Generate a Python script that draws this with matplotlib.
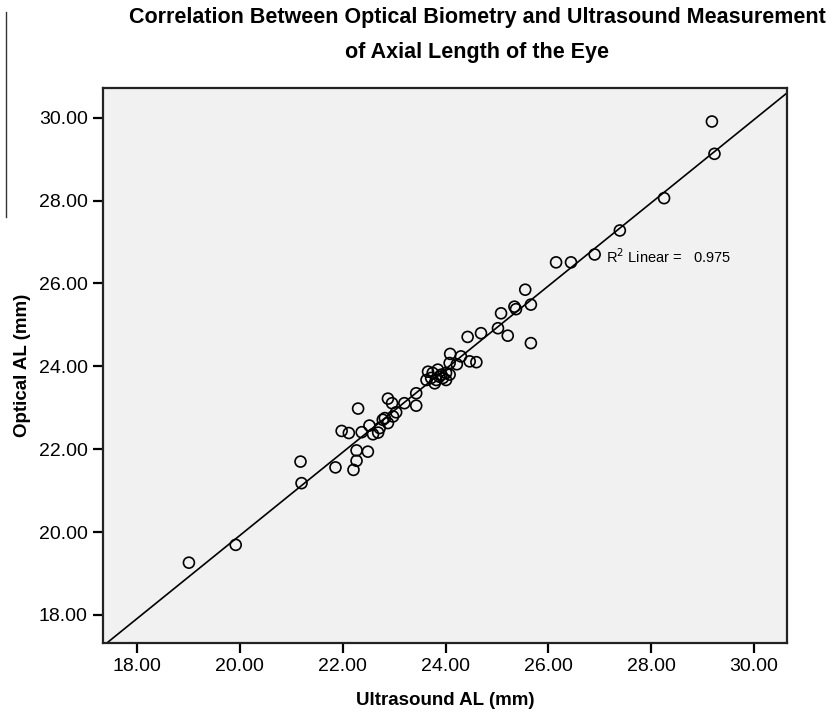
import numpy as np
import matplotlib.pyplot as plt
from matplotlib.lines import Line2D
from matplotlib import font_manager

# Ultrasound AL (mm) vs Optical AL (mm)
ultrasound_al = [19.01, 19.92, 21.20, 21.18, 21.86, 22.21, 22.27, 22.27, 22.49, 21.98,
                 22.12, 22.30, 22.37, 22.52, 22.59, 22.69, 22.72, 22.78, 22.82, 22.88,
                 22.88, 22.96, 22.98, 23.04, 23.20, 23.43, 23.43, 23.66, 23.75, 23.85,
                 23.92, 24.01, 24.08, 23.63, 23.72, 23.82, 23.95, 23.79, 24.01, 23.88,
                 24.08, 24.09, 24.30, 24.22, 24.47, 24.60, 24.43, 24.69, 25.21, 25.66,
                 25.02, 25.08, 25.34, 25.37, 25.66, 25.55, 26.15, 26.44, 26.90, 27.39,
                 28.25, 29.18, 29.23]
optical_al = [19.26, 19.69, 21.18, 21.70, 21.56, 21.50, 21.72, 21.97, 21.94, 22.44,
              22.39, 22.98, 22.41, 22.57, 22.36, 22.40, 22.51, 22.71, 22.75, 22.63,
              23.22, 23.11, 22.79, 22.89, 23.11, 23.35, 23.05, 23.87, 23.84, 23.92,
              23.80, 23.84, 23.80, 23.67, 23.72, 23.67, 23.72, 23.59, 23.67, 23.75,
              24.08, 24.30, 24.24, 24.05, 24.12, 24.10, 24.71, 24.80, 24.74, 24.56,
              24.92, 25.28, 25.44, 25.38, 25.49, 25.85, 26.51, 26.51, 26.70, 27.28,
              28.06, 29.91, 29.13]
tick_vals = [18, 20, 22, 24, 26, 28, 30]
r2_text = "0.975"

# narrow Arial-like font if present
names = {f.name for f in font_manager.fontManager.ttflist}
fam = "Liberation Sans Narrow" if "Liberation Sans Narrow" in names else "Liberation Sans"
plt.rcParams['font.family'] = fam

fig = plt.figure(figsize=(8.39, 7.14), dpi=100)
ax = fig.add_axes([0.1228, 0.0994, 0.8152, 0.7774])
ax.set_facecolor('#f1f1f1')

xmin, xmax = 17.34, 30.64
ymin, ymax = 17.32, 30.72

ax.scatter(ultrasound_al, optical_al, s=62, facecolors='none', edgecolors='black',
           linewidths=1.2, zorder=3)

# fit line
k, b = np.polyfit(ultrasound_al, optical_al, 1)
xs = np.array([xmin, xmax])
ax.plot(xs, k * xs + b, color='black', lw=1.2, zorder=2)

ax.set_xlim(xmin, xmax)
ax.set_ylim(ymin, ymax)
ax.set_xticks(tick_vals)
ax.set_yticks(tick_vals)
ax.set_xticklabels([f"{v:.2f}" for v in tick_vals])
ax.set_yticklabels([f"{v:.2f}" for v in tick_vals])
ax.tick_params(direction='out', length=7, width=1.6, labelsize=14, colors='black', pad=4)
for sp in ax.spines.values():
    sp.set_linewidth(1.6)
    sp.set_color('#222222')

ax.set_xlabel("Ultrasound AL (mm)", fontsize=13.5, fontweight='bold')
ax.set_ylabel("Optical AL (mm)", fontsize=13.5, fontweight='bold')
ax.xaxis.set_label_coords(0.5, -0.103)
ax.xaxis.label.set_va('center')
ax.yaxis.set_label_coords(-0.118, 0.5)
ax.yaxis.label.set_va('center')

ax.text(27.13, 26.50, "R$^2$ Linear =   " + r2_text, fontsize=10.5, va='baseline', ha='left')

fig.text(0.5685, 0.975, "Correlation Between Optical Biometry and Ultrasound Measurement",
         ha='center', va='center', fontsize=15.5, fontweight='bold')
fig.text(0.5685, 0.926, "of Axial Length of the Eye",
         ha='center', va='center', fontsize=15.5, fontweight='bold')

# stray rule at the top left edge
fig.add_artist(Line2D([6 / 839, 6 / 839], [1 - 12 / 714, 1 - 217 / 714],
                      transform=fig.transFigure, color='#333333', lw=1))

fig.savefig("out.png", dpi=100)
